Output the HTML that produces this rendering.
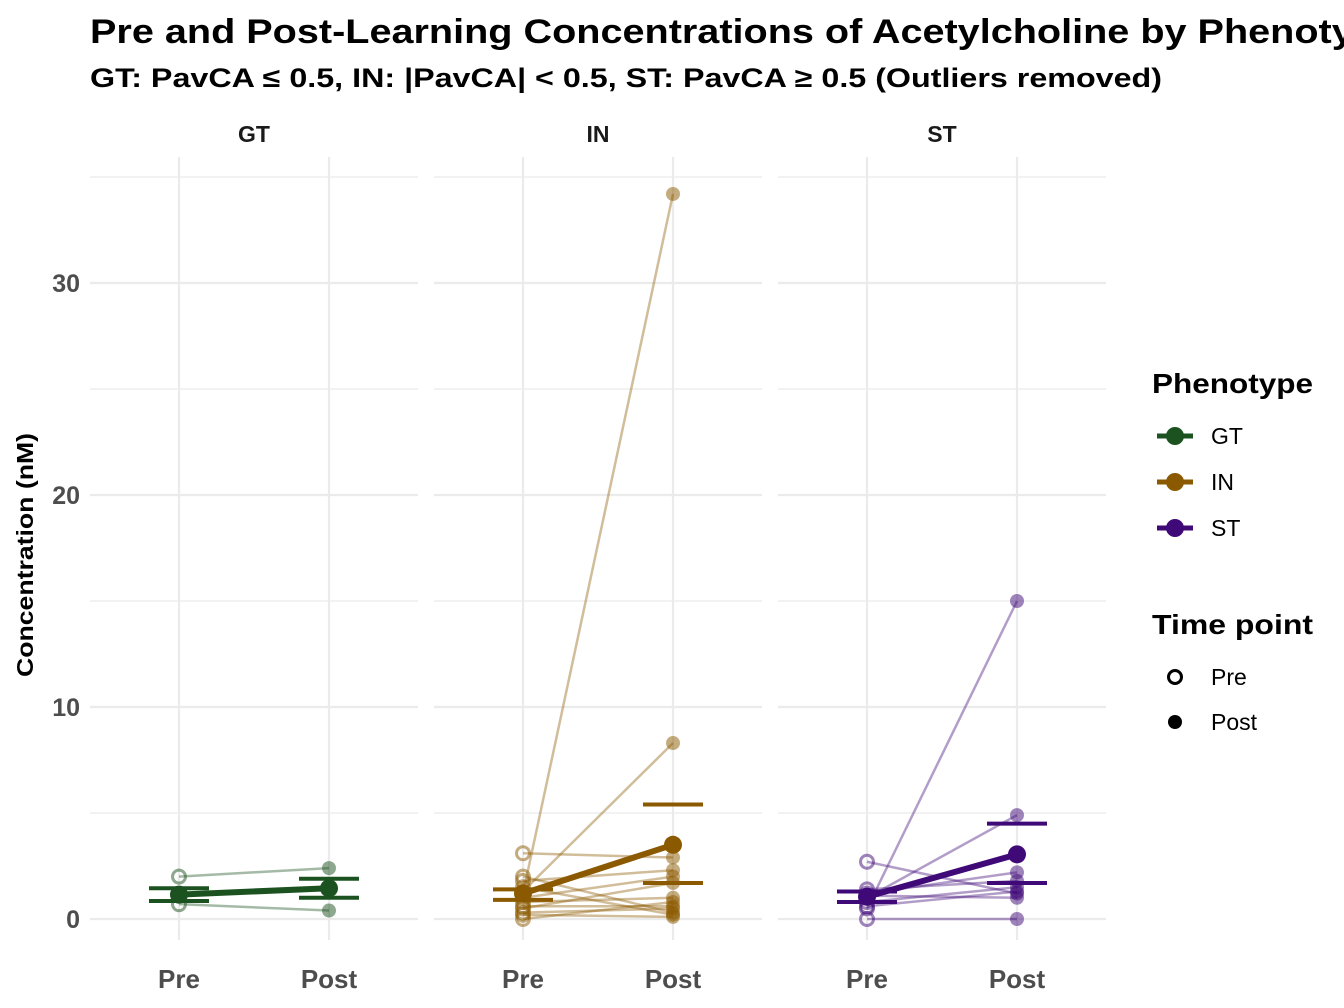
<!DOCTYPE html>
<html><head><meta charset="utf-8"><style>
body{margin:0;background:#fff;}
svg{display:block;font-family:"Liberation Sans",sans-serif;}
</style></head><body>
<svg id="chart" width="1344" height="1008">
<text x="90" y="43" font-size="34" font-weight="bold" textLength="1310" lengthAdjust="spacingAndGlyphs">Pre and Post-Learning Concentrations of Acetylcholine by Phenotype</text>
<text x="90" y="87" font-size="27" font-weight="bold" textLength="1072" lengthAdjust="spacingAndGlyphs">GT: PavCA ≤ 0.5, IN: |PavCA| &lt; 0.5, ST: PavCA ≥ 0.5 (Outliers removed)</text>
<text transform="translate(33,555) rotate(-90)" text-anchor="middle" font-size="23" font-weight="bold" textLength="244" lengthAdjust="spacingAndGlyphs">Concentration (nM)</text>
<g id="panels"></g>
<g>
<text x="1152" y="393" font-size="28" font-weight="bold" textLength="161" lengthAdjust="spacingAndGlyphs">Phenotype</text>
<text x="1152" y="634" font-size="28" font-weight="bold" textLength="161" lengthAdjust="spacingAndGlyphs">Time point</text>
<g id="leg"></g>
</g>
</svg>
<script>
const phenotypes=["GT","IN","ST"];
const colors=["#1b5220","#8b5a00","#3f0a78"];
const preGT=[2.0,0.7,1.1];
const postGT=[2.4,0.4,1.5];
const preIN=[1.2,1.3,3.1,2.0,1.8,1.0,0.5,0.2,0.3,0.0,1.5,0.8,0.6];
const postIN=[34.2,8.3,2.9,0.3,2.3,2.0,1.7,0.1,0.5,0.8,0.2,1.0,0.6];
const preST=[0.5,1.0,2.7,0.0,1.2,1.4,0.8,1.1,0.6];
const postST=[15.0,4.9,1.2,0.0,2.2,1.8,1.5,1.0,1.3];
const meanPre=[1.15,1.2,1.05];
const meanPost=[1.45,3.5,3.05];
const errPreLo=[0.85,0.9,0.8], errPreHi=[1.45,1.4,1.3];
const errPostLo=[1.0,1.7,1.7], errPostHi=[1.9,5.4,4.5];
const yTicks=[0,10,20,30];
const xLabels=["Pre","Post"];
const pre=[preGT,preIN,preST], post=[postGT,postIN,postST];
const NS="http://www.w3.org/2000/svg";
const y=v=>919-v*21.2;
const panelX=[90,434,778], PW=328;
const g=document.getElementById('panels');
function mk(t,a,p){const e=document.createElementNS(NS,t);for(const k in a)e.setAttribute(k,a[k]);(p||g).appendChild(e);return e;}
phenotypes.forEach((ph,i)=>{
  const x0=panelX[i], xp=x0+89, xq=x0+239;
  const pg=mk('g',{});
  
  
  for(let v=0;v<=35;v+=5){mk('line',{x1:x0,x2:x0+PW,y1:y(v),y2:y(v),stroke:'#ebebeb','stroke-width':v%10==0?2.2:1.2},pg);}
  [xp,xq].forEach(x=>mk('line',{x1:x,x2:x,y1:157,y2:940,stroke:'#ebebeb','stroke-width':2.2},pg));
  const st=mk('text',{x:x0+PW/2,y:142,'text-anchor':'middle','font-size':23,'font-weight':'bold',fill:'#1a1a1a'},pg);st.textContent=ph;
  
  
  xLabels.forEach((lb,j)=>{const t=mk('text',{x:j?xq:xp,y:988,'text-anchor':'middle','font-size':26,'font-weight':'bold',fill:'#4d4d4d'},pg);t.textContent=lb;
    
    });
  const c=colors[i];
  pre[i].forEach((v,k)=>{
    const l=mk('line',{x1:xp,x2:xq,y1:y(v),y2:y(post[i][k]),stroke:c,'stroke-opacity':0.4,'stroke-width':2.5},pg);
    
    
    const a=mk('circle',{cx:xp,cy:y(v),r:6.5,fill:'none',stroke:c,'stroke-opacity':0.5,'stroke-width':3},pg);
    
    
    const b=mk('circle',{cx:xq,cy:y(post[i][k]),r:7,fill:c,'fill-opacity':0.5},pg);
    
    
  });
  [[xp,errPreLo[i]],[xp,errPreHi[i]],[xq,errPostLo[i]],[xq,errPostHi[i]]].forEach(([x,v])=>{
    const e=mk('line',{x1:x-30,x2:x+30,y1:y(v),y2:y(v),stroke:c,'stroke-width':4},pg);
    
    
  });
  const ml=mk('line',{x1:xp,x2:xq,y1:y(meanPre[i]),y2:y(meanPost[i]),stroke:c,'stroke-width':6},pg);
  
  
  [[xp,meanPre[i]],[xq,meanPost[i]]].forEach(([x,v])=>{const m=mk('circle',{cx:x,cy:y(v),r:9,fill:c},pg);
    
    });
});
yTicks.forEach(v=>{const t=mk('text',{x:80,y:y(v)+9,'text-anchor':'end','font-size':25,'font-weight':'bold',fill:'#4d4d4d'});t.textContent=v;
  
  });
const leg=document.getElementById('leg');
phenotypes.forEach((ph,i)=>{
  const yy=436+i*46;
  mk('line',{x1:1157,x2:1193,y1:yy,y2:yy,stroke:colors[i],'stroke-width':5},leg);
  mk('circle',{cx:1175,cy:yy,r:9,fill:colors[i]},leg);
  const t=mk('text',{x:1211,y:yy+8,'font-size':23},leg);t.textContent=ph;
  
  
});
mk('circle',{cx:1175,cy:677,r:6.5,fill:'none',stroke:'#000','stroke-width':3},leg);
let t1=mk('text',{x:1211,y:685,'font-size':23},leg);t1.textContent='Pre';


mk('circle',{cx:1175,cy:722,r:7,fill:'#000'},leg);
let t2=mk('text',{x:1211,y:730,'font-size':23},leg);t2.textContent='Post';


</script>
</body></html>
